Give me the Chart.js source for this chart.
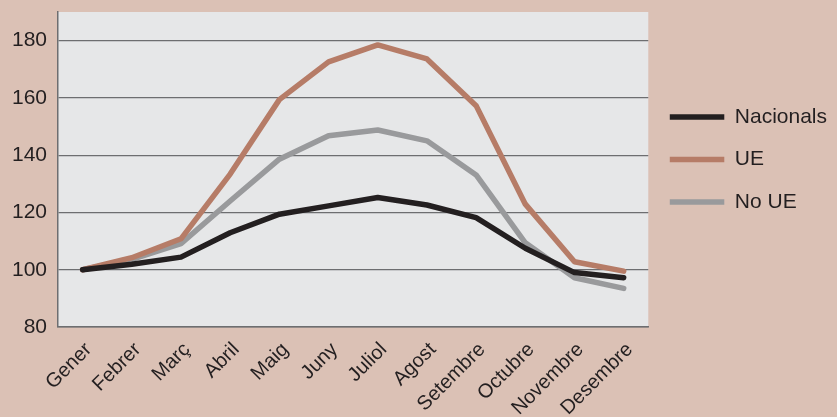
<!DOCTYPE html>
<html>
<head>
<meta charset="utf-8">
<script src="https://cdn.jsdelivr.net/npm/chart.js@4/dist/chart.umd.min.js"></script>
<style>
  html, body { margin: 0; padding: 0; background: #dbc1b5; }
  #wrap { width: 837px; height: 417px; }
</style>
</head>
<body>
<div id="wrap"><canvas id="chart" width="837" height="417"></canvas></div>
<script>
// months
const mesos = ["Gener", "Febrer", "Març", "Abril", "Maig", "Juny", "Juliol", "Agost", "Setembre", "Octubre", "Novembre", "Desembre"];

// series values (index, Gener = 100)
const nacionals = [100, 101.9, 104.4, 112.9, 119.4, 122.3, 125.2, 122.6, 118.2, 107.5, 99.0, 97.2];
const ue        = [100, 104.2, 110.8, 133.4, 159.4, 172.6, 178.5, 173.6, 157.3, 122.9, 102.8, 99.5];
const noUe      = [100, 103.6, 109.1, 124.0, 138.6, 146.8, 148.8, 145.0, 133.1, 109.4, 97.2, 93.5];

// y axis
const yMin = 80;
const yMax = 190;
const yStep = 20;

const fontFamily = "'Liberation Sans', Arial, sans-serif";
const textColor = "#231f20";
const axisColor = "#6d6e70";

// fons gris de l'area del grafic
const plotBg = {
  id: "plotBg",
  beforeDraw(chart) {
    const { ctx, chartArea: a } = chart;
    ctx.save();
    ctx.fillStyle = "#e6e7e8";
    ctx.fillRect(a.left, a.top, a.right - a.left, a.bottom - a.top);
    ctx.restore();
  },
};

function serie(label, data, color) {
  return {
    label,
    data,
    borderColor: color,
    backgroundColor: color,
    borderWidth: 5.5,
    borderCapStyle: "round",
    borderJoinStyle: "round",
    pointRadius: 0,
    pointHoverRadius: 0,
    tension: 0,
    fill: false,
  };
}

new Chart(document.getElementById("chart"), {
  type: "line",
  data: {
    labels: mesos,
    datasets: [
      serie("Nacionals", nacionals, "#231f20"),
      serie("UE", ue, "#b67c67"),
      serie("No UE", noUe, "#999a9c"),
    ],
  },
  options: {
    responsive: false,
    animation: false,
    layout: { padding: { top: 12, right: 0, bottom: 0, left: 0 } },
    plugins: {
      tooltip: { enabled: false },
      legend: {
        position: "right",
        align: "start",
        title: { display: true, text: "", font: { size: 12 }, padding: { top: 58.5, bottom: 0 } },
        labels: {
          usePointStyle: true,
          pointStyle: "line",
          pointStyleWidth: 54.5,
          boxWidth: 54.5,
          padding: 21.5,
          color: textColor,
          font: { family: fontFamily, size: 21 },
        },
      },
    },
    scales: {
      x: {
        offset: true,
        afterFit: (scale) => { scale.height = 90; },
        grid: { display: false, drawTicks: false },
        border: { display: true, color: axisColor, width: 1.5 },
        ticks: {
          autoSkip: false,
          minRotation: 45,
          maxRotation: 45,
          padding: 11,
          labelOffset: 6,
          color: textColor,
          font: { family: fontFamily, size: 20 },
        },
      },
      y: {
        min: yMin,
        max: yMax,
        afterFit: (scale) => {
          scale.width = 58;
          scale.paddingTop = 0;
          scale.paddingBottom = 0;
        },
        grid: {
          drawTicks: false,
          lineWidth: 1.3,
          color: (c) => (c.tick && c.tick.value > 180 ? "rgba(0,0,0,0)" : axisColor),
        },
        border: { display: true, color: axisColor, width: 1.5 },
        ticks: {
          stepSize: yStep,
          padding: 11,
          color: textColor,
          font: { family: fontFamily, size: 21 },
          callback: (v) => (v % yStep === 0 ? v : ""),
        },
      },
    },
  },
  plugins: [plotBg],
});
</script>
</body>
</html>
